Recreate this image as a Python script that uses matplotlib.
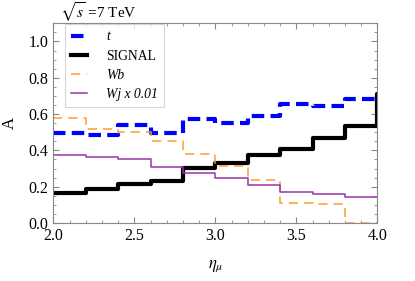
import matplotlib
matplotlib.use("Agg")
import matplotlib.pyplot as plt
import numpy as np
from matplotlib.ticker import MultipleLocator

edges = [2.0, 2.2, 2.4, 2.6, 2.8, 3.0, 3.2, 3.4, 3.6, 3.8, 4.0, 4.2]
t_vals = [0.496, 0.486, 0.541, 0.496, 0.575, 0.549, 0.591, 0.656, 0.643, 0.681, 0.681]
signal_vals = [0.164, 0.188, 0.215, 0.234, 0.305, 0.333, 0.372, 0.409, 0.471, 0.536, 0.71]
wb_vals = [0.578, 0.519, 0.501, 0.453, 0.380, 0.315, 0.236, 0.110, 0.103, 0.0, 0.0]
wj_vals = [0.377, 0.366, 0.352, 0.311, 0.278, 0.250, 0.210, 0.170, 0.158, 0.142, 0.142]
labels = ['t', 'SIGNAL', 'Wb', 'Wj x 0.01']

plt.rcParams['font.family'] = ['Liberation Serif', 'DejaVu Serif']
plt.rcParams['mathtext.fontset'] = 'stix'

fig = plt.figure(figsize=(4.15, 2.81), dpi=100)
ax = fig.add_axes([0.1285, 0.2064, 0.7807, 0.7106])

def step(vals):
    x = np.array(edges)
    y = np.append(vals, vals[-1])
    return x, y

x, y = step(t_vals)
ax.step(x, y, where='post', color='#0000ff', lw=3, dashes=(3, 1.5), label=labels[0])
x, y = step(signal_vals)
ax.step(x, y, where='post', color='black', lw=3, label=labels[1])
x, y = step(wb_vals)
ax.step(x, y, where='post', color='#ff9a2e', lw=1.1, dashes=(6, 4), label=labels[2])
x, y = step(wj_vals)
ax.step(x, y, where='post', color='#9933aa', lw=1.1, label=labels[3])

ax.set_xlim(2.0, 4.0)
ax.set_ylim(0.0, 1.1)
ax.xaxis.set_major_locator(MultipleLocator(0.5))
ax.xaxis.set_minor_locator(MultipleLocator(0.1))
ax.yaxis.set_major_locator(MultipleLocator(0.2))
ax.yaxis.set_minor_locator(MultipleLocator(0.05))
ax.tick_params(which='both', direction='in', top=True, right=True, color='#888888', labelsize=11.5)
ax.tick_params(which='major', length=4)
ax.tick_params(which='minor', length=2)
ax.set_xticks([2.0, 2.5, 3.0, 3.5, 4.0])
ax.set_xticklabels(['2.0', '2.5', '3.0', '3.5', '4.0'])
for s in ax.spines.values():
    s.set_color('#888888')
    s.set_linewidth(0.8)

ax.set_xlabel(r'$\eta_\mu$', fontsize=12, labelpad=10)
ax.set_ylabel('A', fontsize=12, labelpad=8)
fig.text(0.145, 0.955, r'$\sqrt{s}$ =7 TeV', fontsize=11, va='center')

leg = ax.legend(loc='upper left', bbox_to_anchor=(0.035, 0.995), fontsize=9.8, frameon=True,
                fancybox=False, edgecolor='#cccccc', handlelength=1.2, borderpad=0.45,
                labelspacing=0.45, handletextpad=1.4, borderaxespad=0.0)
leg.get_frame().set_linewidth(0.8)
for i, txt in enumerate(leg.get_texts()):
    if i != 1:
        txt.set_style('italic')

fig.savefig('out.png', dpi=100)
